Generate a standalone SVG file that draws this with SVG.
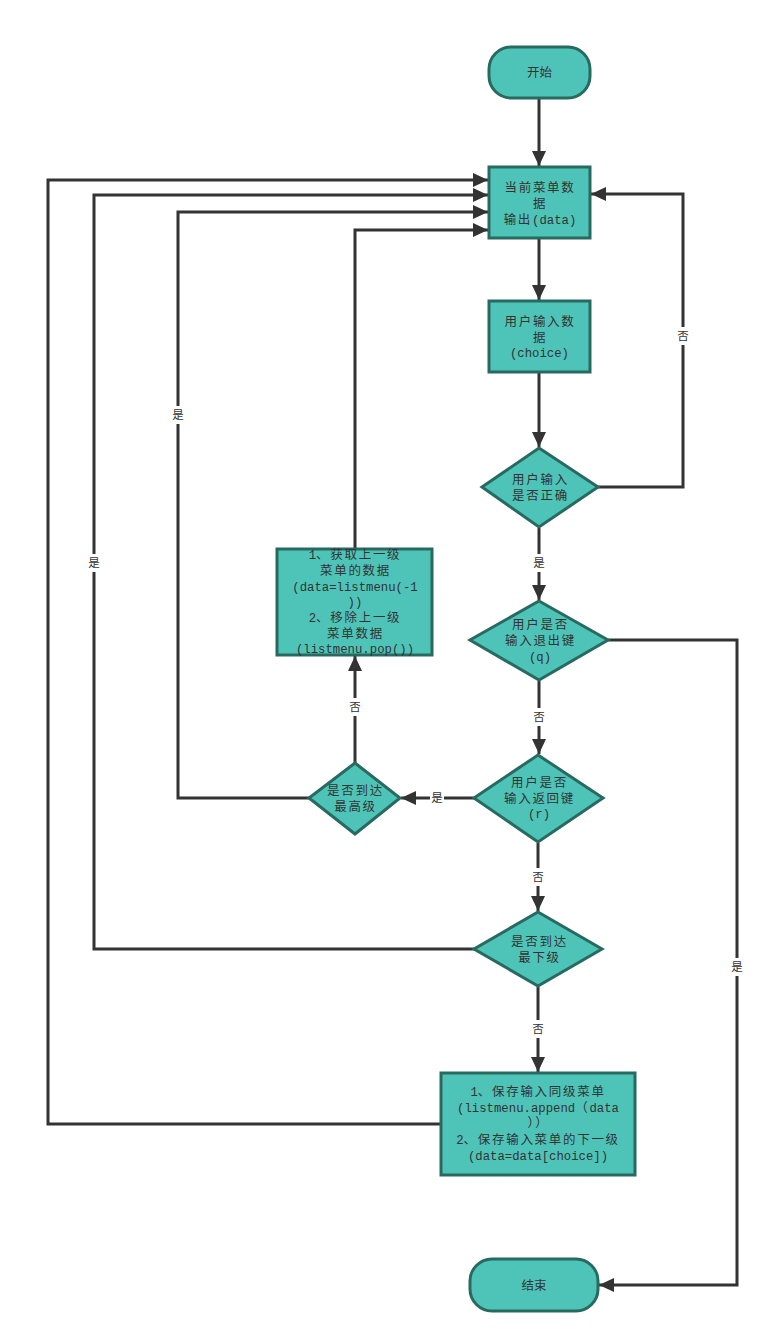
<svg xmlns="http://www.w3.org/2000/svg" width="767" height="1343" viewBox="0 0 767 1343">
  <style>
    .node { fill: #4ec4b9; stroke: #286a5f; stroke-width: 3; }
    .t { font-family: "Liberation Mono", "Noto Sans CJK SC", monospace; font-size: 12.3px; fill: #333; text-anchor: middle; }
    .c { font-family: "Noto Sans CJK SC", sans-serif; font-size: 12.5px; letter-spacing: 1.7px; }
    .term { font-family: "Noto Sans CJK SC", sans-serif; font-size: 12.5px; fill: #333; text-anchor: middle; }
    .edge { fill: none; stroke: #333; stroke-width: 3; marker-end: url(#arrow); }
    .lbl { font-family: "Noto Sans CJK SC", sans-serif; font-size: 11.5px; fill: #333; text-anchor: middle; }
    .lblbg { fill: #fff; }
  </style>
  <defs>
    <marker id="arrow" markerUnits="userSpaceOnUse" markerWidth="16" markerHeight="14" refX="15" refY="7" orient="auto">
      <path d="M0,0 L15,7 L0,14 Z" fill="#333"/>
    </marker>
  </defs>

  <rect width="767" height="1343" fill="#fff"/>

  <!-- connectors -->
  <g id="connectors">
    <path class="edge" d="M539,99 V166"/>
    <path class="edge" d="M539,239 V300"/>
    <path class="edge" d="M539,373 V447"/>
    <path class="edge" d="M598,487 H683 V194 H591"/>
    <path class="edge" d="M539,528 V600"/>
    <path class="edge" d="M608,640 H737 V1285 H599"/>
    <path class="edge" d="M539,681 V754"/>
    <path class="edge" d="M474,798 H401"/>
    <path class="edge" d="M538,843 V911"/>
    <path class="edge" d="M538,987 V1072"/>
    <path class="edge" d="M474,949 H94 V195 H488"/>
    <path class="edge" d="M441,1124 H48 V180 H488"/>
    <path class="edge" d="M309,798 H178 V212 H488"/>
    <path class="edge" d="M355,763 V656"/>
    <path class="edge" d="M355,549 V230 H488"/>

    <!-- edge labels -->
    <rect class="lblbg" x="676" y="327" width="14" height="18"/>
    <text class="lbl" x="683" y="340">否</text>
    <rect class="lblbg" x="532" y="554" width="14" height="18"/>
    <text class="lbl" x="539" y="567">是</text>
    <rect class="lblbg" x="532" y="708" width="14" height="18"/>
    <text class="lbl" x="539" y="721">否</text>
    <rect class="lblbg" x="430" y="789" width="14" height="18"/>
    <text class="lbl" x="437" y="802">是</text>
    <rect class="lblbg" x="531" y="868" width="14" height="18"/>
    <text class="lbl" x="538" y="881">否</text>
    <rect class="lblbg" x="531" y="1020" width="14" height="18"/>
    <text class="lbl" x="538" y="1033">否</text>
    <rect class="lblbg" x="730" y="958" width="14" height="18"/>
    <text class="lbl" x="737" y="971">是</text>
    <rect class="lblbg" x="87" y="554" width="14" height="18"/>
    <text class="lbl" x="94" y="567">是</text>
    <rect class="lblbg" x="171" y="406" width="14" height="18"/>
    <text class="lbl" x="178" y="419">是</text>
    <rect class="lblbg" x="348" y="698" width="14" height="18"/>
    <text class="lbl" x="355" y="711">否</text>
  </g>

  <g id="start">
    <rect class="node" x="489" y="47" width="101" height="51" rx="22"/>
    <text class="term" x="539.5" y="77">开始</text>
  </g>

  <g id="show-menu">
    <rect class="node" x="489" y="167" width="101" height="71"/>
    <text class="t" x="540" y="192"><tspan class="c">当前菜单数</tspan></text>
    <text class="t" x="540" y="208"><tspan class="c">据</tspan></text>
    <text class="t" x="540" y="224"><tspan class="c">输出</tspan>(data)</text>
  </g>

  <g id="read-choice">
    <rect class="node" x="489" y="301" width="101" height="71"/>
    <text class="t" x="540" y="326"><tspan class="c">用户输入数</tspan></text>
    <text class="t" x="540" y="342"><tspan class="c">据</tspan></text>
    <text class="t" x="539.5" y="357">(choice)</text>
  </g>

  <g id="check-valid">
    <polygon class="node" points="539,448 598,487 539,527 482,487"/>
    <text class="t" x="540.5" y="484"><tspan class="c">用户输入</tspan></text>
    <text class="t" x="540.5" y="500"><tspan class="c">是否正确</tspan></text>
  </g>

  <g id="check-quit">
    <polygon class="node" points="539,601 608,640 539,680 470,640"/>
    <text class="t" x="540.5" y="629"><tspan class="c">用户是否</tspan></text>
    <text class="t" x="540.5" y="645"><tspan class="c">输入退出键</tspan></text>
    <text class="t" x="540" y="661">(q)</text>
  </g>

  <g id="check-back">
    <polygon class="node" points="538,755 603,798 538,842 474,798"/>
    <text class="t" x="539.5" y="787"><tspan class="c">用户是否</tspan></text>
    <text class="t" x="539.5" y="803"><tspan class="c">输入返回键</tspan></text>
    <text class="t" x="539" y="818">(r)</text>
  </g>

  <g id="check-top">
    <polygon class="node" points="355,763 400,798 355,834 309,798"/>
    <text class="t" x="355.5" y="795"><tspan class="c">是否到达</tspan></text>
    <text class="t" x="355.5" y="811"><tspan class="c">最高级</tspan></text>
  </g>

  <g id="go-back">
    <rect class="node" x="277" y="549" width="155" height="106"/>
    <text class="t" x="355" y="559">1<tspan class="c">、获取上一级</tspan></text>
    <text class="t" x="355.5" y="575"><tspan class="c">菜单的数据</tspan></text>
    <text class="t" x="355" y="591">(data=listmenu(-1</text>
    <text class="t" x="355" y="606">))</text>
    <text class="t" x="355" y="622">2<tspan class="c">、移除上一级</tspan></text>
    <text class="t" x="355.5" y="638"><tspan class="c">菜单数据</tspan></text>
    <text class="t" x="355" y="653">(listmenu.pop())</text>
  </g>

  <g id="check-bottom">
    <polygon class="node" points="538,912 602,949 538,986 474,949"/>
    <text class="t" x="539.5" y="946"><tspan class="c">是否到达</tspan></text>
    <text class="t" x="539.5" y="962"><tspan class="c">最下级</tspan></text>
  </g>

  <g id="go-next">
    <rect class="node" x="441" y="1073" width="194" height="102"/>
    <text class="t" x="538" y="1096">1<tspan class="c">、保存输入同级菜单</tspan></text>
    <text class="t" x="538" y="1112">(listmenu.append<tspan class="c">（</tspan>data</text>
    <text class="t" x="538.5" y="1127"><tspan class="c">））</tspan></text>
    <text class="t" x="538" y="1144">2<tspan class="c">、保存输入菜单的下一级</tspan></text>
    <text class="t" x="538" y="1160">(data=data[choice])</text>
  </g>

  <g id="end">
    <rect class="node" x="470" y="1259" width="128" height="52" rx="22"/>
    <text class="term" x="534" y="1290">结束</text>
  </g>
</svg>
